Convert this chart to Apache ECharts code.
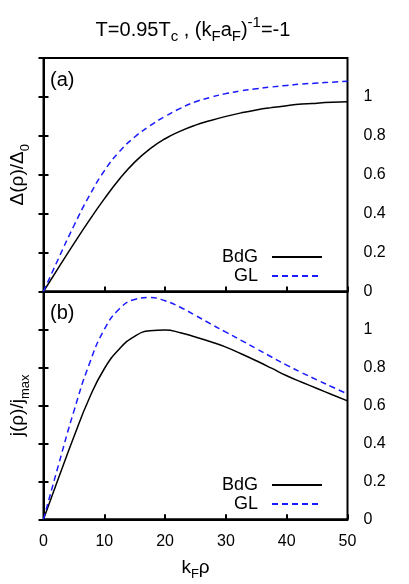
<!DOCTYPE html>
<html>
<head>
<meta charset="utf-8">
<script src="https://cdn.jsdelivr.net/npm/echarts@6/dist/echarts.min.js"></script>
<style>
  html, body {margin: 0; padding: 0; background: #fff;}
  #chart {width: 409px; height: 584px;}
</style>
</head>
<body>
<div id="chart"></div>
<script>
// k_F rho sample points
var k_rho = [0, 2.5, 5, 7.5, 10, 12.5, 15, 17.5, 20, 22.5, 25, 27.5, 30, 32.5, 35, 37.5, 40, 42.5, 45, 47.5, 50];
// panel (a): gap profile
var gap_bdg = [0, 0.124, 0.246, 0.364, 0.476, 0.578, 0.665, 0.733, 0.785, 0.824, 0.855, 0.879, 0.900, 0.918, 0.933, 0.945, 0.955, 0.963, 0.968, 0.972, 0.975];
var gap_gl = [0, 0.172, 0.338, 0.49, 0.62, 0.72, 0.794, 0.852, 0.90, 0.941, 0.975, 0.998, 1.017, 1.031, 1.042, 1.051, 1.059, 1.066, 1.071, 1.076, 1.08];
// panel (b): current profile
var cur_bdg = [0, 0.22, 0.435, 0.635, 0.793, 0.898, 0.964, 0.993, 0.997, 0.983, 0.96, 0.935, 0.907, 0.872, 0.835, 0.796, 0.756, 0.722, 0.689, 0.656, 0.624];
var cur_gl = [0, 0.29, 0.57, 0.815, 1.0, 1.109, 1.158, 1.168, 1.151, 1.117, 1.074, 1.029, 0.986, 0.943, 0.899, 0.855, 0.812, 0.772, 0.734, 0.697, 0.66];
var y_ticks = ['0', '0.2', '0.4', '0.6', '0.8', '1'];

const FONT = 'Liberation Sans';
const sub_rich = {
    m: {fontSize: 19, lineHeight: 28, fontFamily: FONT, color: '#000'},
    s: {fontSize: 13, lineHeight: 13, verticalAlign: 'bottom', fontFamily: FONT, color: '#000'},
};

function zip(xs, ys) {
    return xs.map((x, i) => [x, ys[i]]);
}
function y_label(v) {
    var idx = Math.round(v / 0.2);
    return idx < y_ticks.length ? y_ticks[idx] : '';
}
function x_axis(grid, show_labels) {
    return {
        type: 'value', gridIndex: grid, min: 0, max: 50, interval: 10,
        axisLine: {show: true, lineStyle: {color: '#000', width: 2}},
        axisTick: {show: true, inside: true, length: 5, lineStyle: {color: '#000', width: 2}},
        splitLine: {show: false},
        axisLabel: {show: show_labels, margin: 14, fontSize: 16, fontFamily: FONT, color: '#000'},
        name: show_labels ? '{m|k}{s|F}{m|ρ}' : '',
        nameLocation: 'middle', nameGap: 34,
        nameTextStyle: {rich: sub_rich},
    };
}
function y_axis_right(grid) {
    return {
        type: 'value', gridIndex: grid, position: 'right', min: 0, max: 1.2, interval: 0.2,
        axisLine: {show: true, lineStyle: {color: '#000', width: 2}},
        axisTick: {show: true, inside: true, length: 5, lineStyle: {color: '#000', width: 2}},
        splitLine: {show: false},
        axisLabel: {margin: 16, fontSize: 16, fontFamily: FONT, color: '#000', formatter: y_label},
    };
}
function y_axis_left(grid, name) {
    return {
        type: 'value', gridIndex: grid, position: 'left', min: 0, max: 1.2, interval: 0.2,
        axisLine: {show: true, lineStyle: {color: '#000', width: 2}},
        axisTick: {show: true, inside: true, length: 5, lineStyle: {color: '#000', width: 2}},
        splitLine: {show: false},
        axisLabel: {show: false},
        name: name, nameLocation: 'middle', nameGap: 12, nameRotate: 90,
        nameTextStyle: {rich: sub_rich},
    };
}
function line(name, data, xi, yi, color, dashed) {
    return {
        name: name, type: 'line', xAxisIndex: xi, yAxisIndex: yi,
        data: data, smooth: true, symbol: 'none',
        lineStyle: {color: color, width: 1.5, type: dashed ? [6, 4] : 'solid'},
        itemStyle: {color: color},
    };
}
function legend(top) {
    return {
        data: ['BdG', 'GL'], orient: 'vertical', right: 86, top: top,
        align: 'right', itemWidth: 50, itemHeight: 14, itemGap: 1, padding: 0,
        selectedMode: false,
        itemStyle: {opacity: 0},
        textStyle: {fontSize: 18, fontFamily: FONT, color: '#000', padding: [0, 9, 0, 0]},
    };
}

var chart = echarts.init(document.getElementById('chart'), null, {renderer: 'canvas'});
chart.setOption({
    animation: false,
    backgroundColor: '#fff',
    grid: [
        {left: 41, right: 61.5, top: 58, height: 233.5, show: true, borderColor: '#000', borderWidth: 2},
        {left: 41, right: 61.5, top: 291.5, height: 227.8, show: true, borderColor: '#000', borderWidth: 2},
    ],
    xAxis: [x_axis(0, false), x_axis(1, true)],
    yAxis: [
        y_axis_right(0), y_axis_left(0, '{m|Δ(ρ)/Δ}{s|0}'),
        y_axis_right(1), y_axis_left(1, '{m|j(ρ)/j}{s|max}'),
    ],
    legend: [legend(248), legend(476)],
    series: [
        line('BdG', zip(k_rho, gap_bdg), 0, 0, '#000', false),
        line('GL', zip(k_rho, gap_gl), 0, 0, '#1a1aff', true),
        line('BdG', zip(k_rho, cur_bdg), 1, 2, '#000', false),
        line('GL', zip(k_rho, cur_gl), 1, 2, '#1a1aff', true),
    ],
    graphic: [
        {type: 'text', x: 193, y: 30, style: {
            text: '{m|T=0.95T}{s|c}{m| , (k}{s|F}{m|a}{s|F}{m|)}{p|-1}{m|=-1}',
            align: 'center', verticalAlign: 'middle', fontFamily: FONT,
            rich: {
                m: {fontSize: 20, lineHeight: 29, fontFamily: FONT, color: '#000'},
                s: {fontSize: 15, lineHeight: 15, verticalAlign: 'bottom', fontFamily: FONT, color: '#000'},
                p: {fontSize: 15, lineHeight: 11, verticalAlign: 'top', fontFamily: FONT, color: '#000'},
            },
        }},
        {type: 'text', x: 50, y: 70, style: {text: '(a)', fontSize: 20, fontFamily: FONT, fill: '#000'}},
        {type: 'text', x: 50, y: 303, style: {text: '(b)', fontSize: 20, fontFamily: FONT, fill: '#000'}},
    ],
});
</script>
</body>
</html>
